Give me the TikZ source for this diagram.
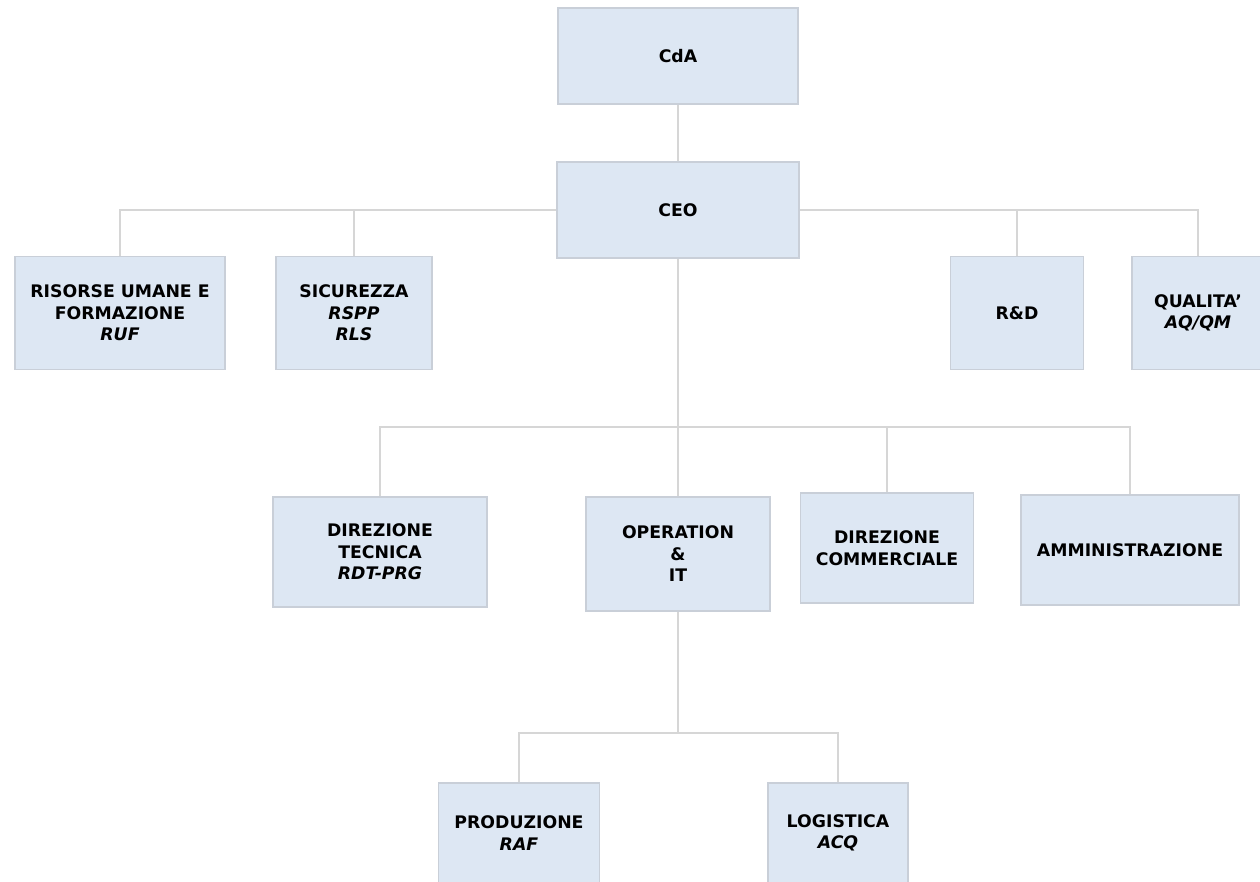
\documentclass[tikz,border=0pt]{standalone}
\usepackage{fontspec}
\setmainfont{DejaVu Sans}
\usepackage{tikz}

\definecolor{boxfill}{HTML}{DDE7F3}
\definecolor{boxline}{HTML}{C9CFD8}
\definecolor{wire}{HTML}{D6D6D6}

\tikzset{
  ufficio/.style={draw=boxline,fill=boxfill,line width=1.2pt,rectangle,align=center,
    font=\fontsize{17.3}{21.5}\selectfont\bfseries,inner sep=2pt},
  filo/.style={draw=wire,line width=1.5pt}
}

\begin{document}
\begin{tikzpicture}[x=1pt,y=-1pt]
    \useasboundingbox (0,0) rectangle (1260,881);
    \clip (0,0) rectangle (1260,881);
    \fill[white] (0,0) rectangle (1260,881);

    \node (cda) at (678,56) [ufficio,minimum width=240,minimum height=96] {CdA};
    \node (ceo) at (678,210) [ufficio,minimum width=242,minimum height=96] {CEO};

    \node (ruf) at (120,313) [ufficio,minimum width=210,minimum height=113] {RISORSE UMANE E\\FORMAZIONE\\{\itshape RUF}};
    \node (sic) at (354,313) [ufficio,minimum width=156,minimum height=113] {SICUREZZA\\{\itshape RSPP}\\{\itshape RLS}};
    \node (rd) at (1017,313) [ufficio,minimum width=133,minimum height=113] {R\&D};
    \node (qual) at (1198,313) [ufficio,minimum width=132,minimum height=113] {QUALITA'\\{\itshape AQ/QM}};

    \node (dt) at (380,552) [ufficio,minimum width=214,minimum height=110] {DIREZIONE\\TECNICA\\{\itshape RDT-PRG}};
    \node (op) at (678,554) [ufficio,minimum width=184,minimum height=114] {OPERATION\\\&\\IT};
    \node (dc) at (887,548) [ufficio,minimum width=173,minimum height=110] {DIREZIONE\\COMMERCIALE};
    \node (amm) at (1130,550) [ufficio,minimum width=218,minimum height=110] {AMMINISTRAZIONE};

    \node (prod) at (519,833) [ufficio,minimum width=161,minimum height=100] {PRODUZIONE\\{\itshape RAF}};
    \node (log) at (838,833) [ufficio,minimum width=140,minimum height=100] {LOGISTICA\\{\itshape ACQ}};

    \coordinate (j2) at (678,427);
    \coordinate (j3) at (678,733);

    \draw[filo] (cda) to (ceo);
    \draw[filo] (ruf.north) |- (ceo.west);
    \draw[filo] (sic.north) |- (ceo.west);
    \draw[filo] (ceo.east) -| (rd.north);
    \draw[filo] (ceo.east) -| (qual.north);

    \draw[filo] (ceo.south) to (op.north);
    \draw[filo] (dt.north) |- (j2) -| (amm.north);
    \draw[filo] (dc.north) |- (j2);

    \draw[filo] (op.south) to (j3);
    \draw[filo] (prod.north) |- (j3) -| (log.north);
\end{tikzpicture}
\end{document}
